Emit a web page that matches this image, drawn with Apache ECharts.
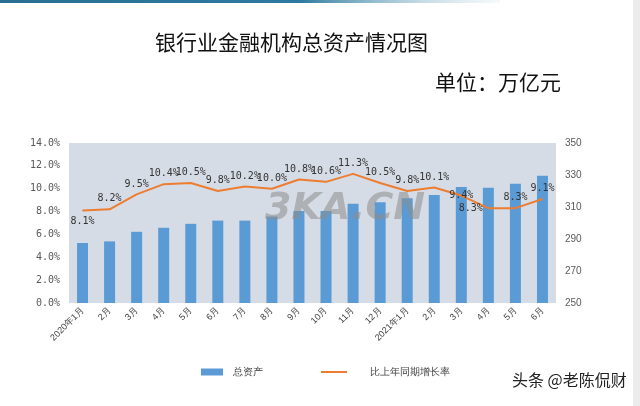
<!DOCTYPE html>
<html>
<head>
<meta charset="utf-8">
<script src="https://cdn.jsdelivr.net/npm/echarts@6/dist/echarts.min.js"></script>
<style>
  html, body { margin: 0; padding: 0; background: #fff; }
  #chart { width: 640px; height: 406px; }
</style>
</head>
<body>
<div id="chart"></div>
<script>
// 月份
const months = ["2020年1月", "2月", "3月", "4月", "5月", "6月", "7月", "8月", "9月", "10月",
  "11月", "12月", "2021年1月", "2月", "3月", "4月", "5月", "6月"];
// 总资产（万亿元）
const totalAssets = [287.5, 288.5, 294.5, 297, 299.5, 301.5, 301.5, 304, 307.5, 307.5,
  312, 313, 315.5, 317.5, 322.5, 322, 324.5, 329.5];
// 比上年同期增长率（%）
const growthRate = [8.1, 8.2, 9.5, 10.4, 10.5, 9.8, 10.2, 10.0, 10.8, 10.6,
  11.3, 10.5, 9.8, 10.1, 9.4, 8.3, 8.3, 9.1];
// 标签位置
const labelPlace = ["bottom", "top", "top", "top", "top", "top", "top", "top", "top", "top",
  "top", "top", "top", "top", "inside", "left", "top", "top"];

const myChart = echarts.init(document.getElementById("chart"));

const options = {
  animation: false,
  backgroundColor: "#fff",
  title: [
    {
      text: "银行业金融机构总资产情况图",
      left: 150,
      top: 27,
      textStyle: { fontFamily: "Noto Sans CJK SC", fontSize: 21, fontWeight: "normal", color: "#111" },
    },
    {
      text: "单位：万亿元",
      left: 430,
      top: 67,
      textStyle: { fontFamily: "Noto Sans CJK SC", fontSize: 21, fontWeight: "normal", color: "#111" },
    },
  ],
  grid: {
    left: 69,
    right: 84,
    top: 143,
    height: 160,
    show: true,
    backgroundColor: "#d6dce5",
    borderWidth: 0,
  },
  legend: [
    {
      left: 196,
      top: 362,
      itemWidth: 22,
      itemHeight: 7,
      icon: "rect",
      data: ["总资产"],
      textStyle: { fontSize: 10, color: "#404040", padding: [0, 0, 0, 5] },
    },
    {
      left: 316,
      top: 362,
      itemWidth: 26,
      itemHeight: 2,
      icon: "rect",
      data: ["比上年同期增长率"],
      textStyle: { fontSize: 10, color: "#404040", padding: [0, 0, 0, 18] },
    },
  ],
  xAxis: {
    type: "category",
    data: months,
    axisLine: { show: false },
    axisTick: { show: false },
    axisLabel: {
      interval: 0,
      rotate: 45,
      margin: 6,
      fontSize: 9,
      color: "#404040",
    },
  },
  yAxis: [
    {
      type: "value",
      min: 0,
      max: 14,
      interval: 2,
      splitLine: { show: false },
      axisLine: { show: false },
      axisTick: { show: false },
      axisLabel: {
        margin: 9,
        fontFamily: "DejaVu Sans Mono",
        fontSize: 10,
        color: "#595959",
        formatter: (v) => v.toFixed(1) + "%",
      },
    },
    {
      type: "value",
      min: 250,
      max: 350,
      interval: 20,
      splitLine: { show: false },
      axisLine: { show: false },
      axisTick: { show: false },
      axisLabel: { margin: 9, fontSize: 10, color: "#595959" },
    },
  ],
  series: [
    {
      name: "总资产",
      type: "bar",
      yAxisIndex: 1,
      data: totalAssets,
      barWidth: 11,
      itemStyle: { color: "#5b9bd5" },
    },
    {
      name: "比上年同期增长率",
      type: "line",
      yAxisIndex: 0,
      data: growthRate.map((v, i) => ({
        value: v,
        label: { position: labelPlace[i] },
      })),
      symbol: "circle",
      symbolSize: 1,
      showSymbol: true,
      lineStyle: { color: "#ed7d31", width: 2 },
      itemStyle: { color: "#ed7d31" },
      label: {
        show: true,
        distance: 5,
        fontFamily: "DejaVu Sans Mono",
        fontSize: 10,
        color: "#333",
        formatter: (p) => p.value.toFixed(1) + "%",
      },
      labelLayout: { hideOverlap: false },
      z: 5,
    },
  ],
  graphic: [
    // 顶部渐变线
    {
      type: "rect",
      shape: { x: 0, y: 0, width: 500, height: 3 },
      style: {
        fill: new echarts.graphic.LinearGradient(0, 0, 1, 0, [
          { offset: 0, color: "#2a6f93" },
          { offset: 0.6, color: "#2f7aa0" },
          { offset: 1, color: "rgba(220,235,240,0.3)" },
        ]),
      },
    },
    // 右侧灰边
    {
      type: "rect",
      shape: { x: 633, y: 0, width: 7, height: 406 },
      style: { fill: "#ececec" },
    },
    // 水印
    {
      type: "text",
      left: 265,
      top: 190,
      z: 4,
      style: {
        text: "3KA.CN",
        font: "italic bold 38px DejaVu Sans",
        fill: "rgba(140,140,140,0.55)",
      },
    },
    {
      type: "text",
      left: 512,
      top: 372,
      style: {
        text: "头条 @老陈侃财",
        font: "16px Noto Sans CJK SC",
        fill: "#222",
      },
    },
  ],
};

myChart.setOption(options);
</script>
</body>
</html>
